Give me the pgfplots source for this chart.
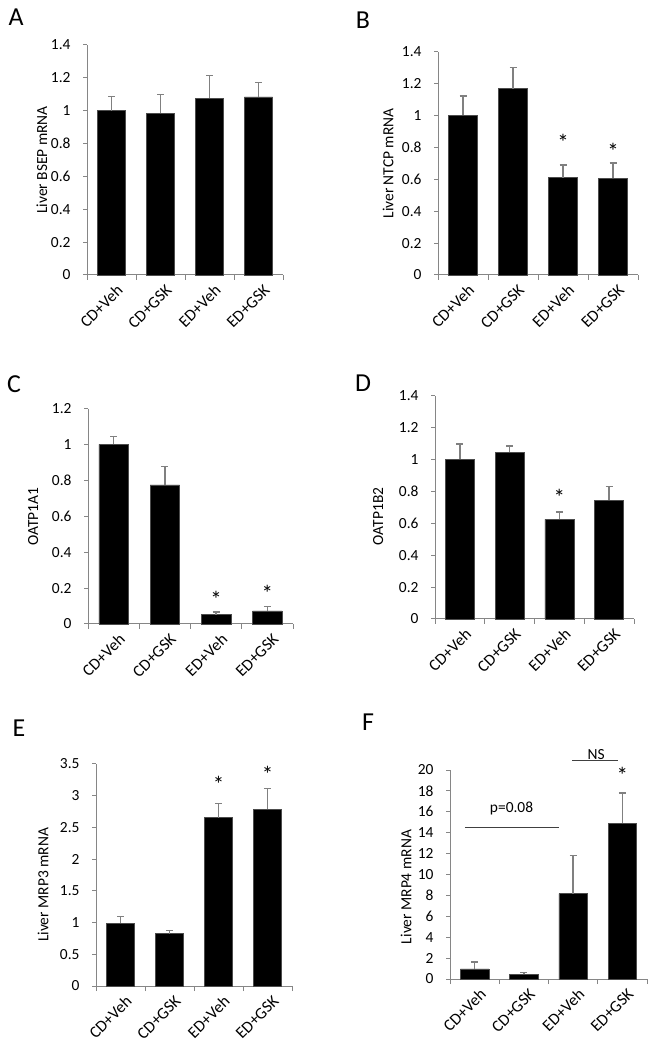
\documentclass[border=0pt]{standalone}
\usepackage{fontspec}
\setmainfont{Carlito}
\usepackage{pgfplots}
\usepackage{pgfplotstable}
\pgfplotsset{compat=1.18}
\definecolor{axgray}{HTML}{868686}
\definecolor{errgray}{HTML}{808080}

\pgfplotstableread{
x y e
0 1.000 0.086
1 0.983 0.117
2 1.076 0.138
3 1.084 0.089
}\tabA
\pgfplotstableread{
x y e
0 1.003 0.121
1 1.170 0.134
2 0.612 0.078
3 0.606 0.098
}\tabB
\pgfplotstableread{
x y e
0 1.003 0.044
1 0.776 0.104
2 0.052 0.015
3 0.073 0.024
}\tabC
\pgfplotstableread{
x y e
0 1.004 0.095
1 1.046 0.040
2 0.625 0.046
3 0.746 0.088
}\tabD
\pgfplotstableread{
x y e
0 0.993 0.107
1 0.825 0.047
2 2.654 0.220
3 2.785 0.331
}\tabE
\pgfplotstableread{
x y e
0 0.97 0.66
1 0.44 0.19
2 8.18 3.62
3 14.90 2.90
}\tabF

\newcommand{\fs}{\fontsize{15.5}{18}\selectfont}
\newcommand{\fx}{\fontsize{16.5}{19}\selectfont}
\pgfplotsset{
  panel/.style={
    scale only axis,
    axis lines*=left,
    axis line style={draw=axgray, line width=1bp, -},
    every tick/.style={draw=axgray, line width=1bp},
    tick align=outside,
    major tick length=4bp,
    minor tick length=5bp,
    xmin=-0.5, xmax=3.5, ymin=0,
    xtick={0,1,2,3},
    xticklabels={CD+Veh,CD+GSK,ED+Veh,ED+GSK},
    minor xtick={-0.5,0.5,1.5,2.5,3.5},
    major x tick style={draw=none},
    x tick label style={rotate=45, anchor=east, font=\fx, yshift=-12bp, xshift=1bp, inner sep=1bp},
    y tick label style={font=\fs, xshift=-9bp},
    /pgf/number format/assume math mode=true,
    label style={font=\fs},
    clip=false,
    enlargelimits=false,
  },
  bars/.style={ybar, bar width=0.58, bar shift=0pt, fill=black, draw=black!70, line width=0.5bp,
    error bars/.cd, y dir=plus, y explicit,
    error bar style={errgray, line width=1.3bp},
    error mark options={rotate=90, errgray, mark size=3.5bp, line width=1.3bp}},
}
\tikzset{ast/.style={anchor=north, inner sep=0pt, font=\fontsize{23}{26}\selectfont},
  letter/.style={font=\fontsize{26}{30}\selectfont}}

\begin{document}
\begin{tikzpicture}
\path[use as bounding box] (0,0) rectangle (656bp,1050bp);

% A
\begin{axis}[panel, at={(87bp,775bp)}, anchor=south west, width=196bp, height=230bp,
  ymax=1.4, ytick={0,0.2,0.4,0.6,0.8,1,1.2,1.4},
  ylabel={Liver BSEP mRNA}, ylabel style={at={(axis description cs:-0.23,0.5)}, anchor=center}]
\addplot[bars] table[x=x, y=y, y error=e] {\tabA};
\end{axis}

% B
\begin{axis}[panel, at={(438bp,775bp)}, anchor=south west, width=200bp, height=223bp,
  ymax=1.4, ytick={0,0.2,0.4,0.6,0.8,1,1.2,1.4},
  ylabel={Liver NTCP mRNA}, ylabel style={at={(axis description cs:-0.25,0.5)}, anchor=center}]
\addplot[bars] table[x=x, y=y, y error=e] {\tabB};
\node[ast] at (axis cs:2,0.882) {*};
\node[ast] at (axis cs:3,0.829) {*};
\end{axis}

% C
\begin{axis}[panel, at={(88bp,426bp)}, anchor=south west, width=205bp, height=215bp,
  ymax=1.2, ytick={0,0.2,0.4,0.6,0.8,1,1.2},
  ylabel={OATP1A1}, ylabel style={at={(axis description cs:-0.268,0.5)}, anchor=center}]
\addplot[bars] table[x=x, y=y, y error=e] {\tabC};
\node[ast] at (axis cs:2,0.184) {*};
\node[ast] at (axis cs:3,0.216) {*};
\end{axis}

% D
\begin{axis}[panel, at={(435bp,431bp)}, anchor=south west, width=199bp, height=223bp,
  ymax=1.4, ytick={0,0.2,0.4,0.6,0.8,1,1.2,1.4},
  ylabel={OATP1B2}, ylabel style={at={(axis description cs:-0.286,0.46)}, anchor=center}]
\addplot[bars] table[x=x, y=y, y error=e] {\tabD};
\node[ast] at (axis cs:2,0.818) {*};
\end{axis}

% E
\begin{axis}[panel, at={(96bp,64bp)}, anchor=south west, width=196bp, height=222bp,
  ymax=3.5, ytick={0,0.5,1,1.5,2,2.5,3,3.5},
  ylabel={Liver MRP3 mRNA}, ylabel style={at={(axis description cs:-0.27,0.455)}, anchor=center}]
\addplot[bars] table[x=x, y=y, y error=e] {\tabE};
\node[ast] at (axis cs:2,3.31) {*};
\node[ast] at (axis cs:3,3.468) {*};
\end{axis}

% F
\begin{axis}[panel, at={(450bp,71bp)}, anchor=south west, width=197bp, height=209bp,
  ymax=20, ytick={0,2,4,6,8,10,12,14,16,18,20},
  ylabel={Liver MRP4 mRNA}, ylabel style={at={(axis description cs:-0.223,0.44)}, anchor=center}]
\addplot[bars] table[x=x, y=y, y error=e] {\tabF};
\node[ast] at (axis cs:3,20.29) {*};
\draw[black!75, line width=1bp] (axis cs:-0.196,14.5) -- (axis cs:1.712,14.5);
\node[font=\fs] at (axis cs:0.75,16.3) {p=0.08};
\draw[black!75, line width=1bp] (axis cs:1.98,20.9) -- (axis cs:2.92,20.9);
\node[font=\fs] at (axis cs:2.47,21.5) {NS};
\end{axis}

% panel letters
\node[letter] at (16bp,1032.5bp) {A};
\node[letter] at (363bp,1030bp) {B};
\node[letter] at (14bp,666bp) {C};
\node[letter] at (363bp,667bp) {D};
\node[letter] at (19bp,322bp) {E};
\node[letter] at (368bp,328bp) {F};
\end{tikzpicture}
\end{document}
